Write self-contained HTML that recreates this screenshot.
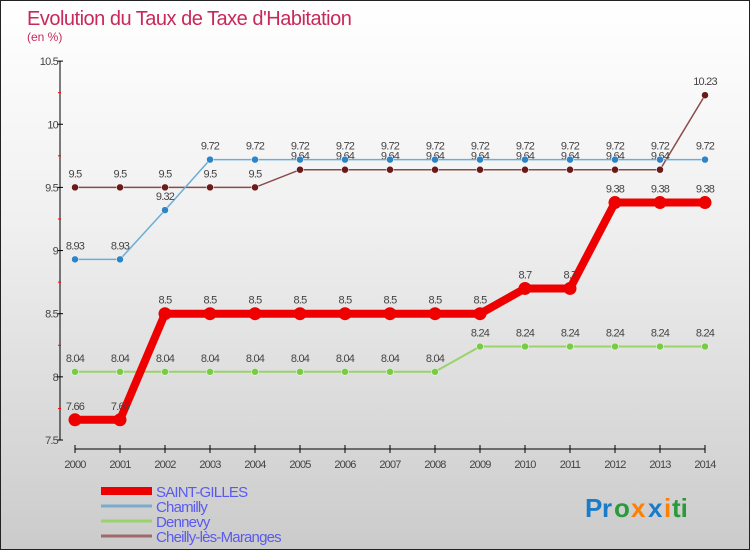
<!DOCTYPE html>
<html><head><meta charset="utf-8"><style>
html,body{margin:0;padding:0}
body{width:750px;height:550px;overflow:hidden;font-family:"Liberation Sans",sans-serif}
#wrap{position:relative;width:748px;height:548px;border:1px solid #222;background:linear-gradient(#ffffff,#f0f0f0 40%,#cbcbcb)}
svg{position:absolute;left:0;top:0}
</style></head><body>
<div id="wrap">
<svg id="chart" width="748" height="548">
<text x="26" y="24" font-size="20" fill="#c8285a" letter-spacing="-0.5">Evolution du Taux de Taxe d'Habitation</text>
<text x="26" y="40" font-size="12" fill="#c8285a">(en %)</text>
<g id="axes"></g><g id="series"></g><g id="legend"></g>
<g font-size="26" font-weight="bold">
<text x="584" y="516" fill="#1a7cc9">P</text><text x="601" y="516" fill="#1a7cc9">r</text><text x="613" y="516" fill="#2a9a3a">o</text><text x="630" y="516" fill="#ff7f00">x</text><text x="647" y="516" fill="#1a7cc9">x</text><text x="663" y="516" fill="#ff7f00">i</text><text x="671" y="516" fill="#2a9a3a">ti</text>
</g>
</svg>
</div>
<script>
const years=[2000,2001,2002,2003,2004,2005,2006,2007,2008,2009,2010,2011,2012,2013,2014];
const yTicks=[7.5,8,8.5,9,9.5,10,10.5];
const saintGilles=[7.66,7.66,8.5,8.5,8.5,8.5,8.5,8.5,8.5,8.5,8.7,8.7,9.38,9.38,9.38];
const chamilly=[8.93,8.93,9.32,9.72,9.72,9.72,9.72,9.72,9.72,9.72,9.72,9.72,9.72,9.72,9.72];
const dennevy=[8.04,8.04,8.04,8.04,8.04,8.04,8.04,8.04,8.04,8.24,8.24,8.24,8.24,8.24,8.24];
const cheilly=[9.5,9.5,9.5,9.5,9.5,9.64,9.64,9.64,9.64,9.64,9.64,9.64,9.64,9.64,10.23];
const NS="http://www.w3.org/2000/svg";
const xs=i=>74+i*45;
const ys=v=>439-(v-7.5)*126.3;
function mk(tag,attrs,parent){const e=document.createElementNS(NS,tag);for(const k in attrs)e.setAttribute(k,attrs[k]);parent.appendChild(e);return e;}
const ax=document.getElementById('axes');
let e=mk('line',{x1:59,y1:ys(10.5),x2:59,y2:ys(7.5),stroke:'#000','stroke-width':1},ax);


e=mk('line',{x1:xs(0),y1:448,x2:xs(14),y2:448,stroke:'#000','stroke-width':1},ax);


yTicks.forEach(v=>{
 mk('line',{x1:56,y1:ys(v),x2:62,y2:ys(v),stroke:'#000'},ax);
 const t=mk('text',{x:57,y:ys(v)+4,'font-size':11,fill:'#444','text-anchor':'end','letter-spacing':'-0.8'},ax);
 t.textContent=String(v);
 
 
 if(v<10.5){mk('line',{x1:57,y1:ys(v+0.25),x2:60,y2:ys(v+0.25),stroke:'#f00'},ax);}
});
years.forEach((y,i)=>{
 mk('line',{x1:xs(i),y1:444,x2:xs(i),y2:452,stroke:'#000'},ax);
 const t=mk('text',{x:xs(i),y:467,'font-size':11,fill:'#444','text-anchor':'middle','letter-spacing':'-0.8'},ax);
 t.textContent=String(y);
 
 
});
const sg=document.getElementById('series');
function drawSeries(vals,color,dot,width,r,name){
 const g=mk('g',{},sg);
 
 
 const p=mk('polyline',{points:vals.map((v,i)=>xs(i)+','+ys(v)).join(' '),fill:'none',stroke:color,'stroke-width':width},g);
 
 
 vals.forEach((v,i)=>{
  const c=mk('circle',{cx:xs(i),cy:ys(v),r:r,fill:dot,stroke:width>3?dot:'#fff','stroke-width':width>3?0:0.5},g);
  
  
  const t=mk('text',{x:xs(i),y:ys(v)-10,'font-size':11,fill:'#444','text-anchor':'middle','letter-spacing':'-0.8'},g);
  t.textContent=String(v);
  
  
 });
}
drawSeries(dennevy,'#99d36a','#77cc44',2,3.5,'dennevy');
drawSeries(cheilly,'#8b4a4a','#6b1a1a',1.5,3.5,'cheilly');
drawSeries(chamilly,'#6aaed6','#2e84c4',1.5,3.5,'chamilly');
drawSeries(saintGilles,'#ee0000','#ee0000',8,6.5,'saint-gilles');
const lg=document.getElementById('legend');
const items=[['SAINT-GILLES','#ee0000',8],['Chamilly','#7aaccd',3],['Dennevy','#99d36a',3],['Cheilly-lès-Maranges','#a06a6a',3]];
items.forEach((it,i)=>{
 const y=490+i*15;
 const g=mk('g',{},lg);
 
 
 mk('line',{x1:100,y1:y,x2:151,y2:y,stroke:it[1],'stroke-width':it[2]},g);
 const t=mk('text',{x:155,y:y+6,'font-size':15,fill:'#5a5af0','letter-spacing':'-0.8'},g);
 t.textContent=it[0];
});
</script>
</body></html>
